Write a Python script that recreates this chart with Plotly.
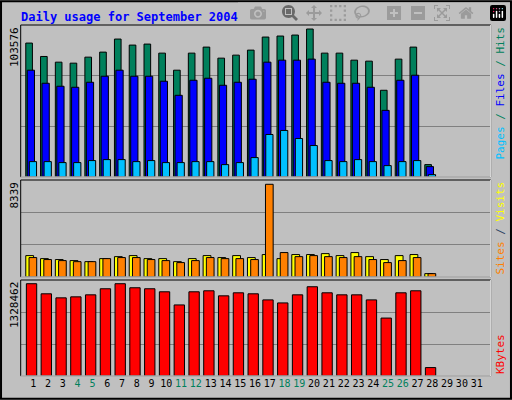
import plotly.graph_objects as go

days = list(range(1, 29))
hits = [91260,82130,78250,77570,81670,85100,94000,89890,90570,84410,72780,84410,88520,80990,83040,86460,95360,96050,96730,100840,84410,84410,79620,78940,59090,80310,88520,8440]
files = [72780,63880,61830,61140,64560,68670,72780,68670,68670,65250,55670,65930,67300,62510,64560,66620,78250,79620,79620,80310,64560,63880,63880,61140,45400,65930,69350,7070]
pages = [10490,10490,9810,9810,11180,11860,11860,10490,11180,9810,9810,10490,10490,8440,9810,13230,28970,31710,26240,21440,11180,10490,11860,10490,7760,10490,11180,1600]
visits = [1840,1580,1500,1410,1320,1580,1750,1840,1580,1580,1320,1580,1840,1670,1840,1670,1930,1580,1930,1930,2010,1840,2100,1750,1500,1840,1930,290]
sites = [1670,1500,1410,1320,1320,1580,1670,1670,1500,1410,1240,1410,1670,1580,1580,1500,7970,2100,1750,1840,1750,1670,1750,1500,1240,1410,1670,290]
kbytes = [1277100,1137300,1081400,1095300,1123300,1207200,1277100,1221200,1207200,1165300,983500,1165300,1179200,1109300,1151300,1137300,1053400,1011400,1123300,1235200,1151300,1123300,1123300,1053400,801700,1151300,1179200,116500]
max_hits, max_sites, max_kb = 103576, 8339, 1328462
tick_days = list(range(1, 32))
weekend = {4, 5, 11, 12, 18, 19, 25, 26}

fig = go.Figure()
line = dict(color="black", width=1)
def bar(y, color, off, w, ya):
    fig.add_trace(go.Bar(x=days, y=y, marker=dict(color=color, line=line), offset=off, width=w,
                         xaxis="x", yaxis=ya, hoverinfo="skip"))
bar(hits, "#00805c", -0.51, 0.45, "y")
bar(files, "#0000ff", -0.41, 0.49, "y")
bar(pages, "#00c0ff", -0.27, 0.49, "y")
bar(visits, "#ffff00", -0.51, 0.53, "y2")
bar(sites, "#ff8000", -0.29, 0.52, "y2")
bar(kbytes, "#ff0000", -0.47, 0.70, "y3")

ticktext = [f'<span style="color:#00805c">{d}</span>' if d in weekend else str(d) for d in tick_days]
xd = [20.7/512, 490.7/512]
ax = dict(showgrid=True, gridcolor="#808080", gridwidth=1, showticklabels=False, zeroline=False,
          fixedrange=True, ticks="")
fig.update_layout(
    width=512, height=400, margin=dict(l=0, r=0, t=0, b=0),
    paper_bgcolor="#c0c0c0", plot_bgcolor="#c0c0c0", showlegend=False, barmode="overlay",
    xaxis=dict(domain=xd, range=[0.147, 31.95], tickvals=[d for d in tick_days], ticktext=ticktext,
               tickangle=0, tickfont=dict(family="DejaVu Sans Mono", size=10, color="black"), showgrid=False,
               zeroline=False, anchor="y3", ticks="", showline=False),
    yaxis=dict(domain=[0.5575, 0.9375], range=[0, max_hits], dtick=max_hits/3, **ax),
    yaxis2=dict(domain=[0.3075, 0.55], range=[0, max_sites], dtick=max_sites/3, **ax),
    yaxis3=dict(domain=[0.06, 0.30], range=[0, max_kb], dtick=max_kb/3, **ax),
    font=dict(family="DejaVu Sans Mono"),
)
shapes = [
    dict(type="rect", xref="paper", yref="paper", x0=0.002, x1=0.998, y0=0.003, y1=0.997,
         line=dict(color="black", width=2)),
]
for y0, y1 in [(0.5575, 0.9375), (0.3075, 0.55), (0.06, 0.30)]:
    shapes.append(dict(type="rect", xref="paper", yref="paper", x0=xd[0], x1=xd[1], y0=y0, y1=y1,
                       line=dict(color="black", width=1)))
    shapes.append(dict(type="line", xref="paper", yref="paper", x0=xd[0], x1=xd[1], y0=y0, y1=y0,
                       line=dict(color="white", width=1)))
    shapes.append(dict(type="line", xref="paper", yref="paper", x0=xd[1], x1=xd[1], y0=y0, y1=y1,
                       line=dict(color="white", width=1)))
fig.update_layout(shapes=shapes)

anns = [
    dict(text="<b>Daily usage for September 2004</b>", x=19/512, y=1-17/400, xanchor="left", yanchor="middle",
         font=dict(family="DejaVu Sans Mono", size=12, color="#0000ff")),
    dict(text="103576", x=14/512, y=0.9375, xanchor="center", yanchor="top", textangle=-90,
         font=dict(size=11, color="black")),
    dict(text="8339", x=14/512, y=0.55, xanchor="center", yanchor="top", textangle=-90,
         font=dict(size=11, color="black")),
    dict(text="1328462", x=14/512, y=0.30, xanchor="center", yanchor="top", textangle=-90,
         font=dict(size=11, color="black")),
    dict(text='<span style="color:#00c0ff">Pages</span> / <span style="color:#0000ff">Files</span> / <span style="color:#00805c">Hits</span>',
         x=500/512, y=0.9375, xanchor="center", yanchor="top", textangle=-90, font=dict(size=11, color="#00805c")),
    dict(text='<span style="color:#ff8000">Sites</span> / <span style="color:#ffff00">Visits</span>',
         x=500/512, y=0.55, xanchor="center", yanchor="top", textangle=-90, font=dict(size=11)),
    dict(text='KBytes', x=500/512, y=0.06, xanchor="center", yanchor="bottom", textangle=-90,
         font=dict(size=11, color="#ff0000")),
]
for a in anns:
    a.update(xref="paper", yref="paper", showarrow=False)
fig.update_layout(annotations=anns)
fig.write_html("out.html", post_script="document.body.style.margin='0';document.body.style.overflow='hidden';")
